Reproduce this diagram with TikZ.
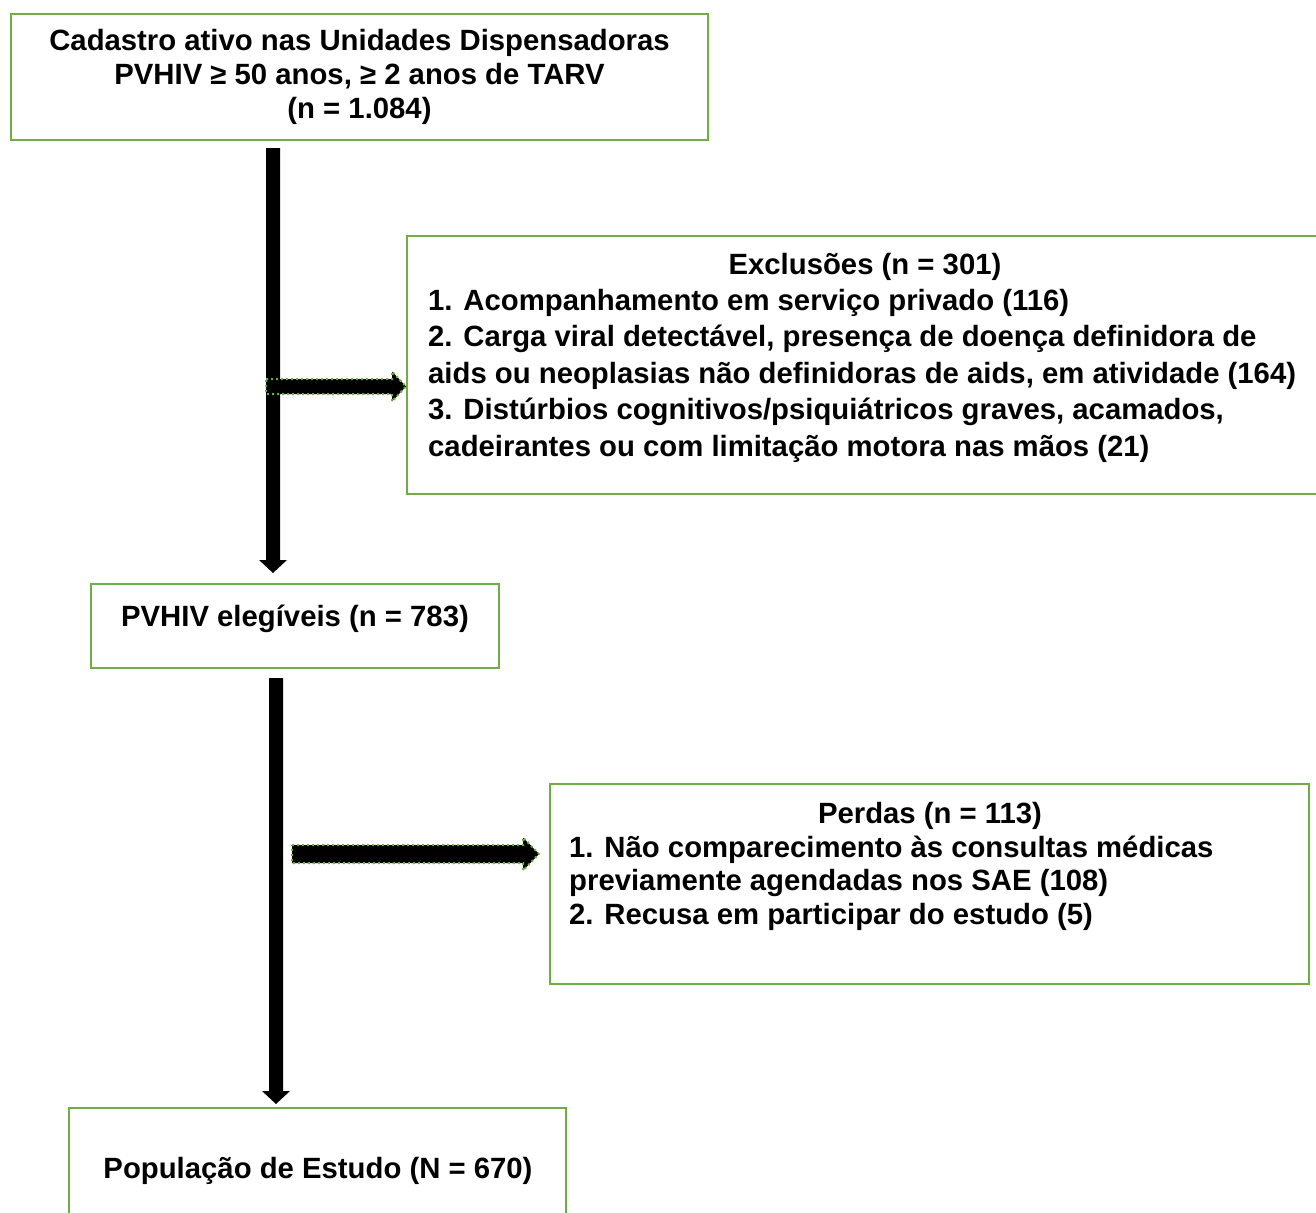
\documentclass[tikz,border=0pt]{standalone}
\usepackage{fontspec}
\setmainfont{Liberation Sans}
\usetikzlibrary{calc}
\definecolor{boxgreen}{HTML}{70AD47}
\newcommand{\vblockarrow}[5]{%
  \fill[black] ($(#1)+(-#3,0)$) -- ($(#2)+(-#3,-#5)$) -- ($(#2)+(-#4,-#5)$) -- (#2)
    -- ($(#2)+(#4,-#5)$) -- ($(#2)+(#3,-#5)$) -- ($(#1)+(#3,0)$) -- cycle;}
\newcommand{\hblockarrow}[5]{%
  \filldraw[harrow] ($(#1)+(0,-#3)$) -- ($(#2)+(-#5,-#3)$) -- ($(#2)+(-#5,-#4)$) -- (#2)
    -- ($(#2)+(-#5,#4)$) -- ($(#2)+(-#5,#3)$) -- ($(#1)+(0,#3)$) -- cycle;}
\begin{document}
\begin{tikzpicture}[x=1pt,y=-1pt,
  txt/.style={font=\bfseries\fontsize{29.3}{34}\selectfont, inner sep=0pt},
  flowbox/.style={draw=boxgreen, line width=2pt, inner sep=0pt},
  harrow/.style={fill=black, draw=boxgreen, line width=2pt, dash pattern=on 2pt off 3pt}]
\clip (0,0) rectangle (1316,1212);
% boxes
\node[flowbox, minimum width=697pt, minimum height=126pt, txt, align=center] (b1) at (359.5,77)
  {Cadastro ativo nas Unidades Dispensadoras\\PVHIV ≥ 50 anos, ≥ 2 anos de TARV\\(n = 1.084)};
\node[flowbox, minimum width=915pt, minimum height=258pt] (ex) at (864.5,365) {};
\node[flowbox, minimum width=408pt, minimum height=84pt] (b2) at (295,626) {};
\node[flowbox, minimum width=759pt, minimum height=200pt] (pe) at (929.5,884) {};
\node[flowbox, minimum width=497pt, minimum height=140pt] (b3) at (317.5,1178) {};
% texts
\node[txt] (ext) at (865,266.5) {Exclusões (n = 301)};
\node[txt, anchor=west, align=left, font=\bfseries\fontsize{29.3}{36.5}\selectfont] (exl) at (428,375.7)
  {1. Acompanhamento em serviço privado (116)\\
   2. Carga viral detectável, presença de doença definidora de\\
   aids ou neoplasias não definidoras de aids, em atividade (164)\\
   3. Distúrbios cognitivos/psiquiátricos graves, acamados,\\
   cadeirantes ou com limitação motora nas mãos (21)};
\node[txt] (b2t) at (295,619) {PVHIV elegíveis (n = 783)};
\node[txt] (pet) at (930,815.7) {Perdas (n = 113)};
\node[txt, anchor=west, align=left, font=\bfseries\fontsize{29.3}{33.5}\selectfont] (pel) at (569,883)
  {1. Não comparecimento às consultas médicas\\
   previamente agendadas nos SAE (108)\\
   2. Recusa em participar do estudo (5)};
\node[txt] (b3t) at (318,1170.7) {População de Estudo (N = 670)};
% vertical arrows
\coordinate (v1s) at ($(b1.south)+(-86.5,7)$);
\coordinate (v1e) at ($(b2.north)+(-22,-10)$);
\coordinate (v2s) at ($(b2.south)+(-19,9)$);
\coordinate (v2e) at ($(b3.north)+(-41.5,-3)$);
\vblockarrow{v1s}{v1e}{7}{14}{13}
\vblockarrow{v2s}{v2e}{7}{14}{13}
% horizontal arrows
\coordinate (h1s) at (266,386.5);
\coordinate (h1e) at (ex.west |- h1s);
\coordinate (h2s) at (292,854);
\coordinate (h2e) at ($(pe.west |- h2s)+(-10,0)$);
\hblockarrow{h1s}{h1e}{7.5}{15}{14}
\hblockarrow{h2s}{h2e}{9}{16.5}{16}
\end{tikzpicture}
\end{document}
